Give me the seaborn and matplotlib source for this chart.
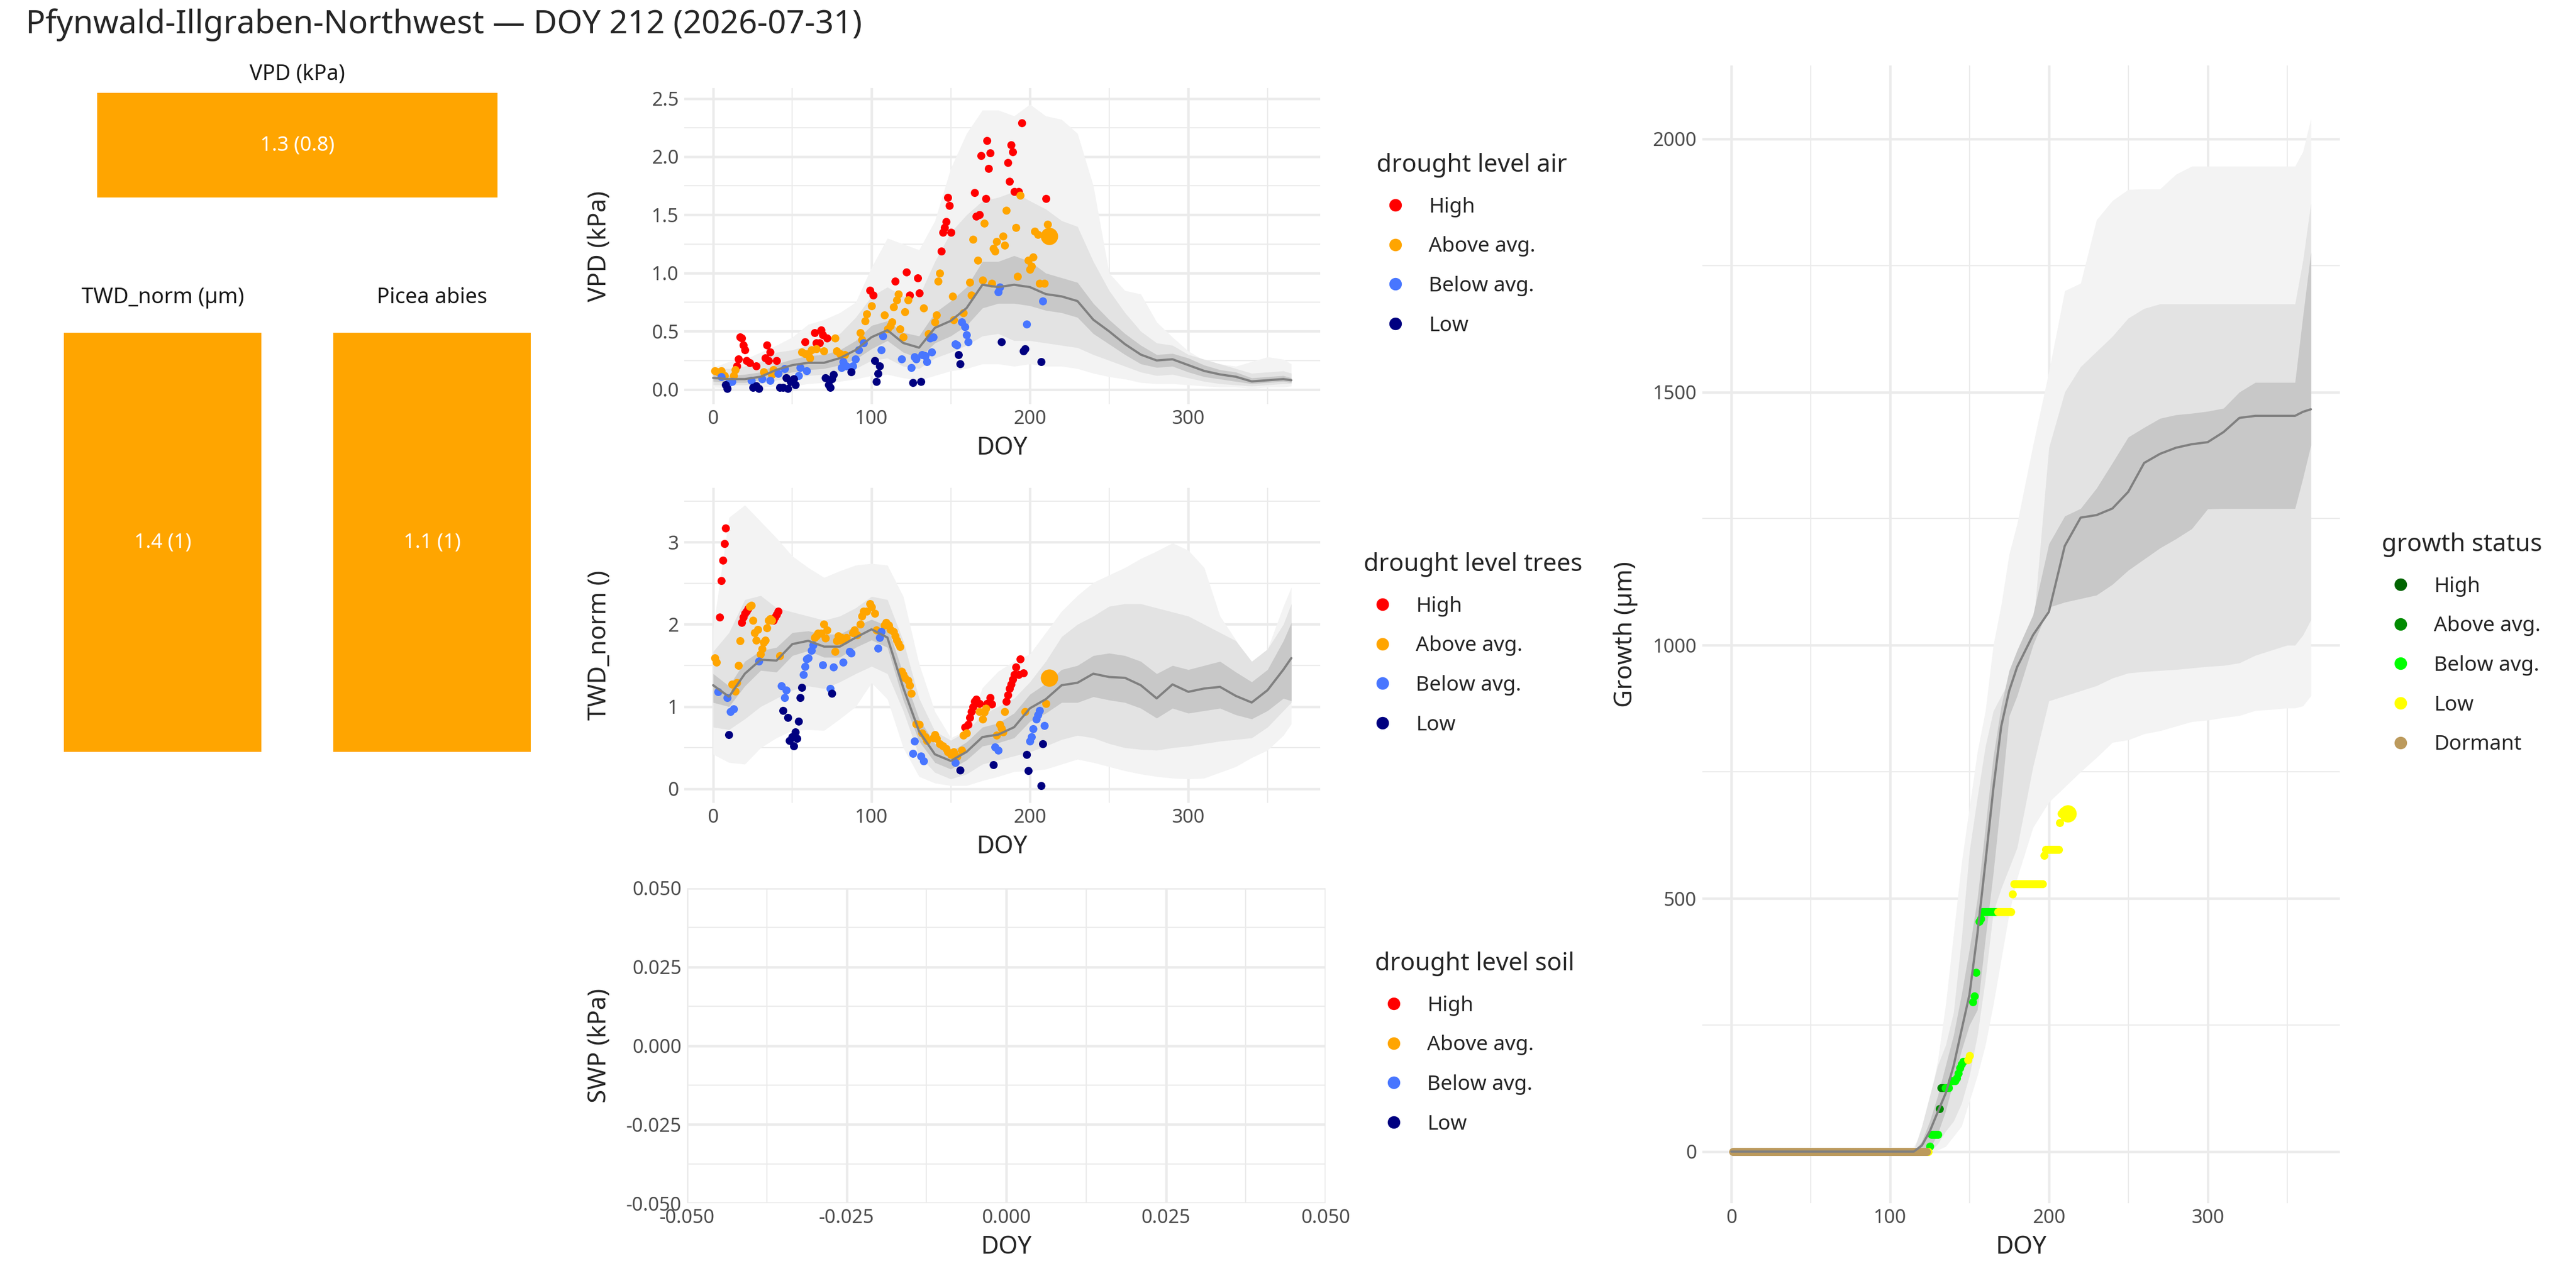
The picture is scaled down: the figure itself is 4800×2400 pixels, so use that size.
import numpy as np
import pandas as pd
import matplotlib
matplotlib.use("Agg")
import matplotlib.pyplot as plt
from matplotlib.lines import Line2D
from matplotlib.ticker import FixedLocator, FixedFormatter
import seaborn as sns

sns.set_theme(style="white")
plt.rcParams['font.family'] = ['Noto Sans', 'DejaVu Sans']
plt.rcParams['axes.unicode_minus'] = False

# --- general info ---
site = "Pfynwald-Illgraben-Northwest"
doy_today = 212
date_today = "2026-07-31"

levels = ["High", "Above avg.", "Below avg.", "Low"]
level_colors = ["#FF0000", "#FFA500", "#4876FF", "#000080"]
growth_levels = ["High", "Above avg.", "Below avg.", "Low", "Dormant"]
growth_colors = ["#006400", "#008B00", "#00FF00", "#FFFF00", "#BC9A5C"]

# summary tiles (mean (sd))
tile_titles = ["VPD (kPa)", "TWD_norm (µm)", "Picea abies"]
tile_mean = [1.3, 1.4, 1.1]
tile_sd = [0.8, 1, 1]
tile_color = "#FFA500"

# --- climatology bands (10 day grid) ---
band_doy = [0, 10, 20, 30, 40, 50, 60, 70, 80, 90, 100, 110, 120, 130, 140, 150, 160, 170, 180,
            190, 200, 210, 220, 230, 240, 250, 260, 270, 280, 290, 300, 310, 320, 330, 340, 350, 360, 365]

vpd_med = [0.10, 0.09, 0.09, 0.11, 0.17, 0.21, 0.23, 0.23, 0.27, 0.34, 0.45, 0.51, 0.40, 0.36, 0.53, 0.59, 0.70, 0.90, 0.88,
           0.90, 0.88, 0.82, 0.80, 0.76, 0.60, 0.50, 0.39, 0.30, 0.25, 0.26, 0.21, 0.16, 0.13, 0.11, 0.07, 0.08, 0.09, 0.08]
vpd_in_lo = [0.07, 0.06, 0.06, 0.08, 0.12, 0.15, 0.17, 0.18, 0.21, 0.26, 0.35, 0.42, 0.32, 0.27, 0.40, 0.46, 0.55, 0.70, 0.74,
             0.74, 0.72, 0.68, 0.66, 0.62, 0.48, 0.39, 0.30, 0.22, 0.19, 0.20, 0.15, 0.11, 0.09, 0.07, 0.05, 0.06, 0.07, 0.06]
vpd_in_hi = [0.13, 0.12, 0.13, 0.15, 0.22, 0.26, 0.29, 0.30, 0.34, 0.42, 0.55, 0.59, 0.49, 0.46, 0.66, 0.76, 0.88, 1.10, 1.10,
             1.15, 1.10, 1.00, 0.96, 0.92, 0.74, 0.60, 0.48, 0.38, 0.30, 0.31, 0.27, 0.21, 0.17, 0.15, 0.10, 0.11, 0.12, 0.10]
vpd_mid_lo = [0.04, 0.04, 0.04, 0.05, 0.08, 0.10, 0.12, 0.13, 0.15, 0.18, 0.25, 0.27, 0.20, 0.18, 0.27, 0.32, 0.38, 0.46, 0.48,
              0.42, 0.42, 0.40, 0.38, 0.36, 0.30, 0.25, 0.20, 0.15, 0.12, 0.13, 0.10, 0.07, 0.05, 0.04, 0.03, 0.04, 0.05, 0.05]
vpd_mid_hi = [0.18, 0.18, 0.20, 0.24, 0.32, 0.34, 0.38, 0.42, 0.48, 0.62, 0.80, 0.88, 0.80, 0.80, 1.10, 1.35, 1.50, 1.62, 1.65,
              1.70, 1.62, 1.55, 1.45, 1.40, 1.10, 0.85, 0.66, 0.50, 0.40, 0.38, 0.30, 0.26, 0.22, 0.18, 0.14, 0.15, 0.16, 0.14]
vpd_out_lo = [0.02, 0.01, 0.01, 0.02, 0.03, 0.03, 0.05, 0.06, 0.07, 0.09, 0.12, 0.13, 0.10, 0.08, 0.12, 0.16, 0.18, 0.22, 0.22,
              0.20, 0.22, 0.20, 0.20, 0.18, 0.14, 0.11, 0.09, 0.06, 0.05, 0.05, 0.04, 0.03, 0.02, 0.02, 0.01, 0.02, 0.02, 0.03]
vpd_out_hi = [0.19, 0.24, 0.26, 0.32, 0.38, 0.45, 0.56, 0.60, 0.66, 0.75, 1.05, 1.30, 1.25, 1.20, 1.45, 1.90, 2.20, 2.40, 2.40,
              2.35, 2.45, 2.35, 2.32, 2.20, 1.75, 1.00, 0.85, 0.82, 0.58, 0.45, 0.33, 0.25, 0.22, 0.20, 0.24, 0.28, 0.26, 0.22]

twd_med = [1.26, 1.12, 1.40, 1.57, 1.56, 1.76, 1.80, 1.73, 1.73, 1.84, 1.94, 1.84, 1.23, 0.70, 0.42, 0.34, 0.45, 0.63, 0.66,
           0.75, 0.98, 1.09, 1.26, 1.29, 1.40, 1.36, 1.35, 1.26, 1.10, 1.27, 1.18, 1.22, 1.24, 1.13, 1.05, 1.20, 1.45, 1.59]
twd_in_lo = [1.05, 1.00, 1.25, 1.44, 1.42, 1.62, 1.68, 1.60, 1.60, 1.72, 1.81, 1.72, 1.08, 0.58, 0.32, 0.24, 0.35, 0.52, 0.56,
             0.62, 0.82, 0.92, 1.05, 1.05, 1.12, 1.08, 1.05, 0.98, 0.86, 0.98, 0.92, 0.95, 0.98, 0.90, 0.85, 0.95, 1.10, 1.07]
twd_in_hi = [1.40, 1.25, 1.55, 1.68, 1.72, 1.90, 1.92, 1.88, 1.88, 1.98, 2.06, 1.98, 1.40, 0.85, 0.55, 0.45, 0.57, 0.75, 0.80,
             0.92, 1.15, 1.28, 1.45, 1.50, 1.62, 1.65, 1.62, 1.55, 1.40, 1.50, 1.45, 1.50, 1.55, 1.42, 1.30, 1.45, 1.80, 2.02]
twd_mid_lo = [0.75, 0.72, 0.85, 1.00, 1.10, 1.20, 1.25, 1.22, 1.30, 1.40, 1.49, 1.40, 0.95, 0.40, 0.20, 0.12, 0.18, 0.30, 0.35,
              0.40, 0.45, 0.52, 0.60, 0.65, 0.62, 0.55, 0.50, 0.48, 0.47, 0.50, 0.52, 0.55, 0.58, 0.60, 0.62, 0.75, 0.95, 1.05]
twd_mid_hi = [1.67, 1.90, 2.30, 2.35, 2.20, 2.15, 2.10, 2.05, 2.10, 2.20, 2.34, 2.30, 1.80, 1.10, 0.70, 0.59, 0.70, 0.90, 1.00,
              1.10, 1.30, 1.55, 1.85, 2.00, 2.10, 2.22, 2.25, 2.25, 2.20, 2.15, 2.10, 2.00, 1.90, 1.80, 1.55, 1.70, 2.00, 2.25]
twd_out_lo = [0.42, 0.32, 0.30, 0.50, 0.62, 0.71, 0.72, 0.71, 0.85, 1.00, 1.29, 1.09, 0.50, 0.15, 0.07, 0.04, 0.04, 0.10, 0.15,
              0.21, 0.22, 0.24, 0.30, 0.36, 0.32, 0.27, 0.22, 0.18, 0.15, 0.13, 0.12, 0.13, 0.20, 0.27, 0.38, 0.47, 0.65, 0.79]
twd_out_hi = [1.95, 3.30, 3.45, 3.25, 3.05, 2.83, 2.69, 2.57, 2.65, 2.72, 2.74, 2.72, 2.34, 1.52, 0.94, 0.62, 0.71, 1.23, 1.43,
              1.55, 1.64, 1.90, 2.16, 2.35, 2.51, 2.60, 2.69, 2.80, 2.89, 2.99, 2.90, 2.69, 2.10, 1.81, 1.46, 1.70, 2.22, 2.45]

growth_doy = [0, 110, 115, 120, 125, 130, 135, 140, 145, 150, 155, 160, 165, 170, 175, 180, 190, 200, 210,
              220, 230, 240, 250, 260, 270, 280, 290, 300, 310, 320, 330, 340, 350, 355, 360, 365]
growth_med = [0, 0, 0, 12, 40, 78, 115, 169, 240, 310, 430, 570, 716, 840, 910, 957, 1020, 1066, 1196,
              1252, 1257, 1270, 1303, 1360, 1378, 1390, 1397, 1401, 1421, 1449, 1453, 1453, 1453, 1453, 1461, 1466]
growth_in_lo = [0, 0, 0, 0, 5, 35, 80, 140, 200, 250, 280, 420, 550, 700, 860, 900, 1000, 1075, 1085,
                1092, 1099, 1120, 1148, 1170, 1192, 1210, 1230, 1269, 1270, 1270, 1270, 1270, 1270, 1270, 1330, 1395]
growth_in_hi = [0, 0, 0, 20, 60, 110, 170, 230, 310, 400, 500, 640, 780, 880, 950, 990, 1060, 1200, 1255,
                1270, 1310, 1360, 1411, 1430, 1448, 1455, 1458, 1462, 1468, 1500, 1519, 1519, 1519, 1519, 1650, 1776]
growth_mid_lo = [0, 0, 0, 0, 0, 15, 40, 60, 95, 150, 230, 340, 473, 520, 560, 600, 760, 890, 900,
                 910, 920, 935, 945, 948, 950, 952, 955, 958, 960, 965, 980, 990, 1000, 1000, 1020, 1050]
growth_mid_hi = [0, 0, 2, 50, 110, 170, 210, 275, 420, 594, 700, 800, 870, 900, 930, 960, 1030, 1390, 1500,
                 1550, 1580, 1610, 1646, 1665, 1674, 1674, 1674, 1674, 1674, 1674, 1674, 1674, 1674, 1674, 1760, 1873]
growth_out_lo = [0, 0, 0, 0, 0, 3, 10, 30, 50, 100, 150, 210, 290, 380, 470, 540, 640, 690, 720,
                 750, 778, 808, 813, 825, 831, 840, 849, 852, 857, 861, 871, 873, 876, 876, 880, 900]
growth_out_hi = [0, 0, 10, 40, 100, 180, 290, 430, 570, 680, 790, 870, 1000, 1080, 1180, 1240, 1395, 1540, 1700,
                 1715, 1840, 1878, 1900, 1901, 1901, 1930, 1946, 1946, 1946, 1946, 1946, 1946, 1946, 1946, 1975, 2040]

# --- current year observations ---
vpd_high_doy = [15, 16, 17, 18, 19, 20, 21, 23, 27, 33, 34, 35, 36, 40, 58, 64, 65, 67, 68, 69, 72, 99, 101, 115, 122, 124,
                129, 130, 144, 145, 146, 147, 148, 149, 150, 165, 166, 168, 169, 172, 173, 174, 175, 186, 187, 188, 189,
                190, 193, 195, 210]
vpd_high = [0.20, 0.26, 0.45, 0.44, 0.38, 0.34, 0.25, 0.23, 0.20, 0.27, 0.38, 0.25, 0.32, 0.25, 0.41, 0.49, 0.40, 0.40, 0.51,
            0.47, 0.44, 0.85, 0.81, 0.93, 1.01, 0.81, 0.96, 0.83, 1.19, 1.35, 1.39, 1.44, 1.65, 1.58, 1.35, 1.69, 1.49,
            1.50, 2.01, 1.64, 2.14, 1.90, 2.03, 1.95, 1.79, 2.10, 2.04, 1.70, 1.70, 2.29, 1.64]
vpd_above_doy = [1, 3, 5, 7, 13, 14, 32, 37, 38, 56, 58, 60, 61, 62, 65, 70, 77, 78, 80, 83, 93, 94, 96, 97, 100, 108, 110,
                 112, 113, 114, 116, 117, 118, 120, 121, 123, 133, 136, 140, 141, 142, 143, 151, 152, 158, 162, 163, 164,
                 167, 170, 171, 176, 177, 178, 179, 183, 184, 185, 191, 192, 194, 199, 200, 201, 202, 203, 205, 206, 209, 211]
vpd_above = [0.16, 0.15, 0.16, 0.12, 0.12, 0.17, 0.15, 0.13, 0.17, 0.32, 0.31, 0.31, 0.27, 0.34, 0.35, 0.33, 0.44, 0.33,
             0.31, 0.30, 0.49, 0.43, 0.59, 0.65, 0.72, 0.64, 0.52, 0.55, 0.58, 0.71, 0.77, 0.82, 0.52, 0.45, 0.67, 0.77,
             0.70, 0.48, 0.58, 0.64, 0.93, 1.00, 0.80, 0.60, 0.66, 0.92, 0.81, 1.29, 1.11, 0.94, 1.43, 0.91, 1.21, 1.19,
             1.27, 1.32, 1.24, 1.54, 1.39, 0.97, 1.67, 1.11, 1.03, 1.06, 1.14, 1.36, 1.33, 0.91, 0.91, 1.42]
vpd_below_doy = [5, 10, 12, 24, 31, 36, 41, 45, 54, 55, 59, 81, 82, 84, 88, 90, 92, 95, 106, 107, 119, 125, 127, 128, 132,
                 134, 135, 137, 138, 139, 153, 154, 157, 159, 160, 161, 180, 181, 198, 208]
vpd_below = [0.11, 0.06, 0.07, 0.08, 0.09, 0.08, 0.14, 0.18, 0.12, 0.19, 0.16, 0.19, 0.24, 0.20, 0.20, 0.26, 0.34, 0.40,
             0.34, 0.46, 0.26, 0.19, 0.28, 0.26, 0.30, 0.29, 0.24, 0.44, 0.32, 0.45, 0.39, 0.38, 0.58, 0.54, 0.47, 0.41,
             0.84, 0.88, 0.56, 0.76]
vpd_low_doy = [8, 9, 25, 27, 29, 42, 44, 46, 47, 49, 51, 52, 71, 73, 74, 75, 76, 87, 102, 103, 104, 105, 126, 131, 155,
               156, 182, 196, 197, 207]
vpd_low = [0.04, 0.01, 0.02, 0.03, 0.01, 0.02, 0.02, 0.10, 0.01, 0.07, 0.09, 0.04, 0.10, 0.04, 0.02, 0.09, 0.13, 0.15,
           0.25, 0.07, 0.14, 0.20, 0.06, 0.07, 0.30, 0.22, 0.41, 0.33, 0.35, 0.24]
vpd_today, vpd_today_level = 1.32, "Above avg."

twd_high_doy = [4, 5, 6, 7, 8, 18, 19, 20, 21, 22, 38, 39, 40, 41, 159, 161, 162, 163, 164, 165, 166, 168, 173, 175, 176,
                185, 186, 187, 188, 189, 190, 191, 193, 194, 196]
twd_high = [2.09, 2.53, 2.78, 2.98, 3.17, 2.02, 2.09, 2.13, 2.16, 2.19, 2.05, 2.09, 2.12, 2.16, 0.75, 0.78, 0.87, 0.94,
            1.00, 1.06, 1.09, 1.04, 1.04, 1.11, 1.03, 1.06, 1.14, 1.22, 1.27, 1.33, 1.39, 1.48, 1.39, 1.58, 1.41]
twd_above_doy = [1, 2, 12, 14, 15, 16, 17, 23, 24, 25, 26, 27, 28, 30, 31, 32, 33, 34, 35, 36, 37, 42, 64, 65, 66, 68, 70,
                 71, 72, 77, 78, 79, 80, 81, 83, 84, 88, 89, 91, 93, 94, 95, 97, 99, 100, 102, 103, 108, 109, 111, 112,
                 114, 115, 116, 117, 118, 119, 120, 121, 123, 124, 125, 128, 130, 132, 134, 135, 139, 140, 141, 143, 145,
                 147, 148, 150, 152, 154, 157, 158, 160, 168, 170, 171, 172, 179, 181, 182, 183, 184, 197, 210]
twd_above = [1.59, 1.54, 1.27, 1.19, 1.29, 1.50, 1.80, 2.22, 2.23, 2.05, 1.90, 1.81, 1.94, 1.64, 1.70, 1.78, 1.81, 1.96,
             2.05, 2.07, 2.05, 1.62, 1.84, 1.86, 1.89, 1.89, 2.00, 1.83, 1.93, 1.67, 1.80, 1.86, 1.81, 1.84, 1.81, 1.84,
             1.90, 1.93, 1.87, 2.00, 2.10, 2.16, 2.16, 2.25, 2.21, 2.13, 1.93, 1.99, 2.02, 1.99, 1.94, 1.91, 1.86, 1.81,
             1.77, 1.73, 1.43, 1.39, 1.35, 1.32, 1.26, 1.16, 0.79, 0.78, 0.68, 0.63, 0.59, 0.62, 0.66, 0.61, 0.55, 0.52,
             0.49, 0.45, 0.42, 0.45, 0.39, 0.47, 0.65, 0.68, 0.94, 0.85, 0.93, 0.98, 0.65, 0.78, 0.74, 0.69, 0.94, 0.94,
             1.04]
twd_below_doy = [3, 9, 11, 13, 29, 43, 45, 46, 57, 58, 59, 60, 62, 63, 69, 74, 76, 82, 86, 87, 104, 105, 106, 126, 127,
                 131, 133, 153, 178, 180, 200, 201, 202, 204, 205, 206, 209]
twd_below = [1.18, 1.11, 0.94, 0.97, 1.55, 1.25, 1.11, 1.20, 1.39, 1.49, 1.58, 1.59, 1.68, 1.75, 1.51, 1.22, 1.48, 1.54,
             1.67, 1.65, 1.71, 1.84, 1.91, 0.43, 0.58, 0.40, 0.34, 0.32, 0.51, 0.47, 0.58, 0.63, 0.73, 0.85, 0.90, 0.95,
             0.77]
twd_low_doy = [10, 44, 47, 48, 50, 51, 52, 53, 54, 55, 56, 75, 156, 177, 198, 199, 207, 208]
twd_low = [0.66, 0.95, 0.87, 0.59, 0.63, 0.52, 0.69, 0.61, 0.82, 1.11, 1.23, 1.16, 0.23, 0.29, 0.42, 0.22, 0.04, 0.55]
twd_today, twd_today_level = 1.35, "Above avg."

growth_dormant_doy = list(range(1, 124))
growth_dormant = [0] * len(growth_dormant_doy)
growth_above_doy = [131, 132, 133, 134]
growth_above = [85, 126, 126, 126]
growth_below_doy = [125, 126, 127, 128, 129, 130, 135, 136, 137, 139, 140, 141, 142, 143, 144, 145, 146, 152, 153, 154,
                    156, 157, 158, 159, 160, 161, 162, 163, 164, 165, 166, 167]
growth_below = [10, 34, 34, 34, 34, 34, 126, 126, 126, 140, 140, 140, 145, 155, 165, 172, 178, 295, 307, 354,
                454, 460, 473, 473, 473, 473, 473, 473, 473, 473, 473, 473]
growth_low_doy = [124, 149, 150, 168, 169, 170, 171, 172, 173, 174, 175, 176, 177, 178, 179, 180, 181, 182, 183, 184,
                  185, 186, 187, 188, 189, 190, 191, 192, 193, 194, 195, 196, 197, 198, 199, 200, 201, 202, 203, 204,
                  205, 206, 207, 208, 209, 210, 211]
growth_low = [0, 181, 190, 473, 473, 473, 473, 473, 473, 473, 473, 473, 509, 529, 529, 529, 529, 529, 529, 529,
              529, 529, 529, 529, 529, 529, 529, 529, 529, 529, 529, 529, 585, 596, 596, 596, 596, 596, 596, 596,
              596, 596, 650, 668, 672, 673, 670]
growth_today, growth_today_level = 668, "Low"

# --- styling ---
W, H = 4800, 2400
GRID = "#EBEBEB"
TICK_COL = "#4D4D4D"
BAND_COLS = ["#F3F3F3", "#E3E3E3", "#C8C8C8"]
MED_COL = "#808080"
PT = 13
PT_TODAY = 60
YLAB_X = 1140  # pixel x (right edge) of the y axis titles of the middle column


def rect(x0, y0, x1, y1):
    # pixel box (top-left origin) -> figure fraction
    return [x0 / W, 1 - y1 / H, (x1 - x0) / W, (y1 - y0) / H]


def style_axes(ax, box, xmaj, xmin, ymaj, ymin, xlab, ylab, ylab_x, xfmt=None, yfmt=None):
    for s in ax.spines.values():
        s.set_visible(False)
    ax.xaxis.set_major_locator(FixedLocator(xmaj))
    ax.xaxis.set_minor_locator(FixedLocator(xmin))
    ax.yaxis.set_major_locator(FixedLocator(ymaj))
    ax.yaxis.set_minor_locator(FixedLocator(ymin))
    if xfmt is not None:
        ax.xaxis.set_major_formatter(FixedFormatter(xfmt))
    if yfmt is not None:
        ax.yaxis.set_major_formatter(FixedFormatter(yfmt))
    ax.grid(which="major", color=GRID, lw=1.1)
    ax.grid(which="minor", color=GRID, lw=0.55)
    ax.set_axisbelow(True)
    ax.tick_params(which="both", length=0, labelsize=8.6, labelcolor=TICK_COL, pad=2.5)
    ax.set_xlabel(xlab, fontsize=11, labelpad=3)
    ax.set_ylabel(ylab, fontsize=11)
    ax.yaxis.set_label_coords((ylab_x - box[0]) / (box[2] - box[0]), 0.5)


def draw_bands(ax, x, bands, med):
    for (lo, hi), col in zip(bands, BAND_COLS):
        ax.fill_between(x, lo, hi, color=col, lw=0)
    sns.lineplot(x=x, y=med, ax=ax, color=MED_COL, lw=1.0)


def draw_points(ax, groups, cols, today_x, today_y, today_col):
    for (xs, ys), c in zip(groups, cols):
        sns.scatterplot(x=xs, y=ys, ax=ax, color=c, s=PT, linewidth=0, legend=False)
    sns.scatterplot(x=[today_x], y=[today_y], ax=ax, color=today_col, s=PT_TODAY, linewidth=0, legend=False)


def add_legend(title, labels, cols, x, y):
    handles = [Line2D([0], [0], marker="o", ls="", markerfacecolor=c, markeredgewidth=0, markersize=5.6)
               for c in cols]
    fig.legend(handles, labels, title=title, loc="upper left", bbox_to_anchor=(x / W, 1 - y / H),
               frameon=False, fontsize=9.3, title_fontsize=11, handlelength=1.8, handletextpad=0.7,
               labelspacing=0.92, borderpad=0, borderaxespad=0, alignment="left")


fig = plt.figure(figsize=(16, 8), dpi=300)
fig.text(48 / W, 1 - 46 / H, f"{site} — DOY {doy_today} ({date_today})", fontsize=14.5, va="center", ha="left")

# --- summary tiles ---
tile_boxes = [(181, 173, 927, 368), (119, 620, 487, 1401), (621, 620, 989, 1401)]
tile_title_y = [139, 555, 555]
for box, ttl, ty, m, sd in zip(tile_boxes, tile_titles, tile_title_y, tile_mean, tile_sd):
    ax = fig.add_axes(rect(*box))
    ax.bar([0], [1], width=1, color=tile_color, lw=0)
    ax.set_xlim(-0.5, 0.5)
    ax.set_ylim(0, 1)
    ax.axis("off")
    ax.text(0, 0.5, f"{m:g} ({sd:g})", color="white", ha="center", va="center", fontsize=9)
    fig.text((box[0] + box[2]) / 2 / W, 1 - ty / H, ttl, ha="center", va="center", fontsize=9.5, color="#1A1A1A")

doy_major = [0, 100, 200, 300]
doy_minor = [50, 150, 250, 350]
doy_lim = (-18.25, 383.25)

# --- VPD ---
box = (1275, 164, 2460, 753)
ax = fig.add_axes(rect(*box))
draw_bands(ax, band_doy, [(vpd_out_lo, vpd_out_hi), (vpd_mid_lo, vpd_mid_hi), (vpd_in_lo, vpd_in_hi)], vpd_med)
draw_points(ax, [(vpd_high_doy, vpd_high), (vpd_above_doy, vpd_above), (vpd_below_doy, vpd_below),
                 (vpd_low_doy, vpd_low)], level_colors, doy_today, vpd_today,
            level_colors[levels.index(vpd_today_level)])
ax.set_xlim(*doy_lim)
ax.set_ylim(-0.125, 2.59)
style_axes(ax, box, doy_major, doy_minor, [0, 0.5, 1, 1.5, 2, 2.5], [0.25, 0.75, 1.25, 1.75, 2.25],
           "DOY", "VPD (kPa)", YLAB_X, yfmt=["0.0", "0.5", "1.0", "1.5", "2.0", "2.5"])
add_legend("drought level air", levels, level_colors, 2565, 285)

# --- TWD ---
box = (1275, 909, 2460, 1496)
ax = fig.add_axes(rect(*box))
draw_bands(ax, band_doy, [(twd_out_lo, twd_out_hi), (twd_mid_lo, twd_mid_hi), (twd_in_lo, twd_in_hi)], twd_med)
draw_points(ax, [(twd_high_doy, twd_high), (twd_above_doy, twd_above), (twd_below_doy, twd_below),
                 (twd_low_doy, twd_low)], level_colors, doy_today, twd_today,
            level_colors[levels.index(twd_today_level)])
ax.set_xlim(*doy_lim)
ax.set_ylim(-0.17, 3.66)
style_axes(ax, box, doy_major, doy_minor, [0, 1, 2, 3], [0.5, 1.5, 2.5, 3.5], "DOY", "TWD_norm ()", YLAB_X)
add_legend("drought level trees", levels, level_colors, 2541, 1029)

# --- SWP (no data) ---
box = (1280, 1655, 2470, 2242)
ax = fig.add_axes(rect(*box))
ax.set_xlim(-0.05, 0.05)
ax.set_ylim(-0.05, 0.05)
swp_ticks = [-0.05, -0.025, 0, 0.025, 0.05]
swp_labels = ["-0.050", "-0.025", "0.000", "0.025", "0.050"]
swp_minor = [-0.0375, -0.0125, 0.0125, 0.0375]
style_axes(ax, box, swp_ticks, swp_minor, swp_ticks, swp_minor, "DOY", "SWP (kPa)", YLAB_X,
           xfmt=swp_labels, yfmt=swp_labels)
add_legend("drought level soil", levels, level_colors, 2562, 1773)

# --- Growth ---
box = (3172, 122, 4360, 2242)
ax = fig.add_axes(rect(*box))
draw_bands(ax, growth_doy, [(growth_out_lo, growth_out_hi), (growth_mid_lo, growth_mid_hi),
                            (growth_in_lo, growth_in_hi)], growth_med)
draw_points(ax, [(growth_above_doy, growth_above), (growth_below_doy, growth_below),
                 (growth_low_doy, growth_low), (growth_dormant_doy, growth_dormant)],
            growth_colors[1:], doy_today, growth_today,
            growth_colors[growth_levels.index(growth_today_level)])
ax.set_xlim(*doy_lim)
ax.set_ylim(-102, 2145)
style_axes(ax, box, doy_major, doy_minor, [0, 500, 1000, 1500, 2000], [250, 750, 1250, 1750], "DOY",
           "Growth (µm)", 3052)
add_legend("growth status", growth_levels, growth_colors, 4438, 992)

fig.savefig("out.png", dpi=300)
